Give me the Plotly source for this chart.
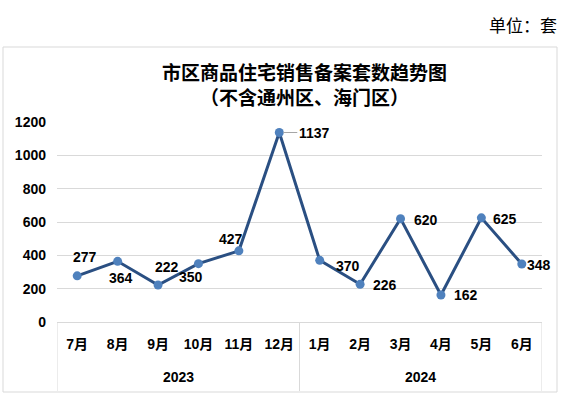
import plotly.graph_objects as go

months = ["7月", "8月", "9月", "10月", "11月", "12月", "1月", "2月", "3月", "4月", "5月", "6月"]
years = ["2023", "2024"]
year_sizes = [6, 6]
values = [277, 364, 222, 350, 427, 1137, 370, 226, 620, 162, 625, 348]
y_ticks = [0, 200, 400, 600, 800, 1000, 1200]

# label offsets in pixels (dx, dy) relative to each point (style only)
label_dx = [8, 3, 9, -7, -8, 35, 28, 25, 25, 25, 24, 17]
label_dy = [-19, 17, -18, 13, -12, 0, 6, 1, 1, 0, 1, 1]

L, R, T, B = 57, 20, 122, 76
W, H = 562, 398
pw, ph = W - L - R, H - T - B

def px_x(p):
    return (p - L) / pw

def px_y(p):
    return (H - B - p) / ph

xs = list(range(len(months)))

fig = go.Figure()
fig.add_trace(go.Scatter(
    x=xs, y=values, mode="lines+markers",
    line=dict(color="#2A4F82", width=3),
    marker=dict(color="#4F81BD", size=9),
    hoverinfo="skip", showlegend=False, cliponaxis=False,
))

font_num = dict(family="Liberation Sans, Arial, sans-serif", size=14, color="#000000")

ann = []
for i, v in enumerate(values):
    lead = (i == 5)
    ann.append(dict(
        x=xs[i], y=v, xref="x", yref="y",
        text="<b>%d</b>" % v, font=font_num,
        showarrow=lead, arrowhead=0, arrowwidth=1, arrowcolor="#A6A6A6",
        ax=label_dx[i] if lead else 0, ay=label_dy[i] if lead else 0,
        xshift=0 if lead else label_dx[i], yshift=0 if lead else -label_dy[i],
        standoff=4, xanchor="center", yanchor="middle",
    ))

# year group labels
start = 0
for yr, n in zip(years, year_sizes):
    ann.append(dict(
        x=start + (n - 1) / 2, y=px_y(377), xref="x", yref="paper",
        text="<b>%s</b>" % yr, showarrow=False, font=font_num,
        xanchor="center", yanchor="middle",
    ))
    start += n

title_font = dict(family="Noto Sans CJK SC, sans-serif", size=19, color="#000000")
ann.append(dict(x=px_x(304), y=px_y(84), xref="paper", yref="paper",
                text="<b>市区商品住宅销售备案套数趋势图</b><br><b>（不含通州区、海门区）</b>",
                showarrow=False, align="center",
                font=title_font, xanchor="center", yanchor="middle"))
ann.append(dict(x=px_x(559), y=px_y(25), xref="paper", yref="paper",
                text="单位：套", showarrow=False,
                font=dict(family="Noto Sans CJK SC, sans-serif", size=17, color="#000000"),
                xanchor="right", yanchor="middle"))

shapes = [dict(type="rect", xref="paper", yref="paper",
               x0=px_x(3), x1=px_x(557), y0=px_y(392), y1=px_y(47),
               line=dict(color="#D9D9D9", width=1), layer="below")]
# group dividers
bounds = [-0.5]
acc = -0.5
for n in year_sizes:
    acc += n
    bounds.append(acc)
for b in bounds:
    shapes.append(dict(type="line", xref="x", yref="paper",
                       x0=b, x1=b, y0=0, y1=px_y(391),
                       line=dict(color="#D9D9D9", width=1)))

fig.update_layout(
    width=W, height=H,
    margin=dict(l=L, r=R, t=T, b=B, autoexpand=False),
    paper_bgcolor="#FFFFFF", plot_bgcolor="#FFFFFF",
    annotations=ann, shapes=shapes,
    xaxis=dict(
        range=[-0.5, len(months) - 0.5], tickvals=xs,
        ticktext=["<b>%s</b>" % m for m in months],
        tickfont=dict(family="Liberation Sans, Noto Sans CJK SC, sans-serif", size=14, color="#000000"),
        showgrid=False, zeroline=False, showline=True, linecolor="#D9D9D9", linewidth=1,
        ticks="", ticklabelstandoff=9, fixedrange=True,
    ),
    yaxis=dict(
        range=[0, 1200], tickvals=y_ticks,
        ticktext=["<b>%d</b>" % t for t in y_ticks],
        tickfont=font_num,
        showgrid=True, gridcolor="#D9D9D9", gridwidth=1, zeroline=False,
        showline=False, ticks="", ticklabelstandoff=10, fixedrange=True,
    ),
)

fig.write_html("out.html", config={"displayModeBar": False},
               post_script="document.body.style.margin='0';document.body.style.overflow='hidden';")
